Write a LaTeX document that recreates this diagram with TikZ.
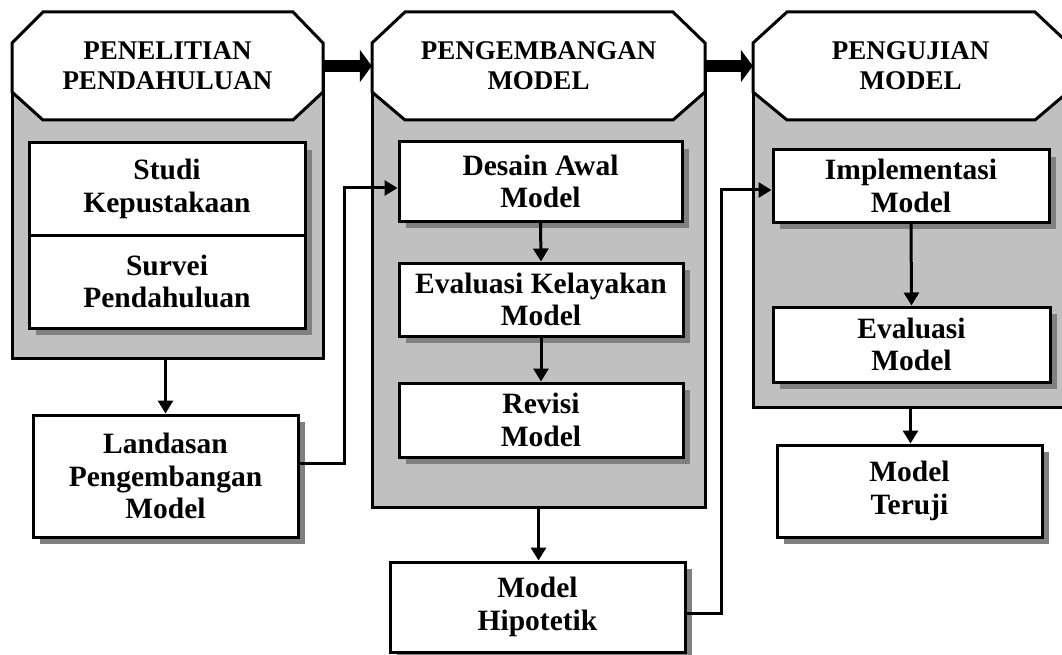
\documentclass[tikz,border=0pt]{standalone}
\usepackage{fontspec}
\setmainfont{Liberation Serif}
\usetikzlibrary{arrows.meta,shadows}
\definecolor{panelgray}{HTML}{C0C0C0}
\begin{document}
\begin{tikzpicture}[x=1pt,y=-1pt,
  hdlbl/.style={font=\fontsize{27}{30}\selectfont\bfseries, align=center, inner sep=0pt},
  box/.style={font=\fontsize{29.5}{32.5}\selectfont\bfseries, align=center,
    draw, line width=3pt, fill=white, inner sep=0pt,
    drop shadow={shadow xshift=7pt, shadow yshift=-7pt, fill=black!50, opacity=1}},
  panel/.style={draw, line width=3pt, fill=panelgray, inner sep=0pt},
  octo/.style={draw, line width=3pt, fill=white, line join=miter},
  arr/.style={line width=3pt, -{Triangle[length=13pt,width=15pt]}},
  bigarr/.style={line width=12pt, -{Triangle[length=12pt,width=32pt]}},
]
\useasboundingbox (0,0) rectangle (1062,655);

% grey phase panels
\node[panel, minimum width=311pt, minimum height=292pt] (cont1) at (167.5,212) {};
\node[panel, minimum width=333pt, minimum height=441pt] (cont2) at (538.5,286.5) {};
\node[panel, minimum width=315pt, minimum height=341pt] (cont3) at (910.5,236.5) {};

% octagonal phase headers
\draw[octo] (12,43) -- (43,12) -- (293,12) -- (323,43) -- (323,92) -- (293,120) -- (43,120) -- (12,92) -- cycle;
\draw[octo] (372,43) -- (405,12) -- (673,12) -- (705,43) -- (705,92) -- (673,120) -- (405,120) -- (372,92) -- cycle;
\draw[octo] (753,43) -- (787,12) -- (1035,12) -- (1068,43) -- (1068,92) -- (1035,120) -- (787,120) -- (753,92) -- cycle;

\node[hdlbl, minimum width=311pt, minimum height=108pt] (hd1) at (167.5,66) {PENELITIAN\\PENDAHULUAN};
\node[hdlbl, minimum width=333pt, minimum height=108pt] (hd2) at (538.5,66) {PENGEMBANGAN\\MODEL};
\node[hdlbl, minimum width=315pt, minimum height=108pt] (hd3) at (910.5,66) {PENGUJIAN\\MODEL};

\draw[bigarr] (hd1.east) -- (hd2.west);
\draw[bigarr] (hd2.east) -- (hd3.west);

% first phase
\node[box, minimum width=276pt, minimum height=92pt] (studi) at (167,189) {Studi\\Kepustakaan};
\node[box, minimum width=276pt, minimum height=93pt] (survei) at (167,281.5) {Survei\\Pendahuluan};
\node[box, minimum width=265pt, minimum height=122pt] (landasan) at (165.5,476) {Landasan\\Pengembangan\\Model};

% second phase
\node[box, minimum width=283pt, minimum height=79pt] (desain) at (540.5,181.5) {Desain Awal\\Model};
\node[box, minimum width=284pt, minimum height=73pt] (evalk) at (541,299.5) {Evaluasi Kelayakan\\Model};
\node[box, minimum width=284pt, minimum height=74pt] (revisi) at (541,420) {Revisi\\Model};
\node[box, minimum width=295pt, minimum height=90pt] (hipotetik) at (537.5,607) {Model\\Hipotetik};

% third phase
\node[box, minimum width=276pt, minimum height=72pt] (impl) at (911,186) {Implementasi\\Model};
\node[box, minimum width=277pt, minimum height=75pt] (evalm) at (911.5,344.5) {Evaluasi\\Model};
\node[box, minimum width=265pt, minimum height=92pt] (teruji) at (909.5,491) {Model\\Teruji};

% connectors
\draw[arr] (landasan.north |- cont1.south) -- (landasan.north);
\draw[arr] ([yshift=13pt]landasan.east) -- ++(45,0) |- ([yshift=-6.5pt]desain.west);
\draw[arr] (desain.south) -- (evalk.north);
\draw[arr] (evalk.south) -- (revisi.north);
\draw[arr] (cont2.south) -- (cont2.south |- hipotetik.north);
\draw[arr] ([yshift=-6pt]hipotetik.east) -- ++(35,0) |- ([yshift=-4pt]impl.west);
\draw[arr] (impl.south) -- (evalm.north);
\draw[arr] (cont3.south) -- (cont3.south |- teruji.north);
\end{tikzpicture}
\end{document}
